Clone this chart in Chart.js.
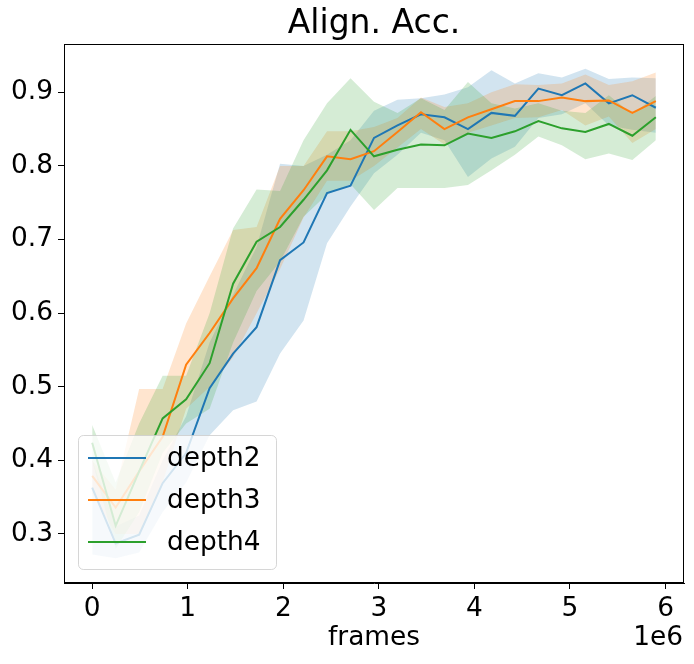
<!DOCTYPE html>
<html>
<head>
<meta charset="utf-8">
<script src="https://cdn.jsdelivr.net/npm/chart.js@4.4.1/dist/chart.umd.min.js"></script>
<style>
    html, body { margin: 0; padding: 0; background: #fff; }
    #wrap { width: 694px; height: 664px; }
</style>
</head>
<body>
<div id="wrap"><canvas id="chart" width="694" height="664"></canvas></div>
<script>
const frames = [0, 245760, 491520, 737280, 983040, 1228800, 1474560, 1720320, 1966080, 2211840,
    2457600, 2703360, 2949120, 3194880, 3440640, 3686400, 3932160, 4177920, 4423680, 4669440,
    4915200, 5160960, 5406720, 5652480, 5898240];

const depth2Mean = [0.363, 0.287, 0.299, 0.369, 0.410, 0.498, 0.545, 0.581, 0.672, 0.696, 0.763, 0.773, 0.838,
    0.855, 0.870, 0.866, 0.850, 0.872, 0.868, 0.905, 0.896, 0.912, 0.885, 0.896, 0.879];
const depth2Upper = [0.400, 0.310, 0.325, 0.400, 0.460, 0.560, 0.625, 0.690, 0.803, 0.800, 0.815, 0.835, 0.875,
    0.890, 0.892, 0.897, 0.907, 0.930, 0.912, 0.926, 0.920, 0.932, 0.918, 0.920, 0.919];
const depth2Lower = [0.272, 0.267, 0.275, 0.330, 0.370, 0.434, 0.468, 0.480, 0.545, 0.590, 0.695, 0.745, 0.790,
    0.815, 0.845, 0.835, 0.785, 0.810, 0.826, 0.865, 0.870, 0.885, 0.855, 0.849, 0.845];

const depth3Mean = [0.379, 0.336, 0.385, 0.432, 0.530, 0.573, 0.620, 0.661, 0.728, 0.767, 0.813, 0.809, 0.820,
    0.846, 0.873, 0.850, 0.866, 0.877, 0.888, 0.888, 0.893, 0.888, 0.889, 0.872, 0.888];
const depth3Upper = [0.400, 0.360, 0.497, 0.497, 0.586, 0.650, 0.713, 0.717, 0.800, 0.800, 0.847, 0.847, 0.853,
    0.865, 0.893, 0.880, 0.885, 0.900, 0.911, 0.910, 0.912, 0.924, 0.910, 0.915, 0.927];
const depth3Lower = [0.355, 0.300, 0.300, 0.370, 0.470, 0.500, 0.540, 0.600, 0.660, 0.730, 0.780, 0.780, 0.800,
    0.825, 0.850, 0.829, 0.845, 0.855, 0.865, 0.866, 0.876, 0.855, 0.867, 0.831, 0.850];

const depth4Mean = [0.424, 0.311, 0.385, 0.457, 0.483, 0.532, 0.640, 0.697, 0.717, 0.754, 0.794, 0.849, 0.813,
    0.822, 0.829, 0.828, 0.844, 0.838, 0.847, 0.861, 0.851, 0.846, 0.857, 0.841, 0.866];
const depth4Upper = [0.448, 0.370, 0.450, 0.515, 0.515, 0.600, 0.715, 0.768, 0.766, 0.835, 0.885, 0.919, 0.887,
    0.872, 0.892, 0.876, 0.914, 0.885, 0.878, 0.885, 0.875, 0.872, 0.896, 0.870, 0.895];
const depth4Lower = [0.400, 0.280, 0.330, 0.410, 0.450, 0.470, 0.560, 0.630, 0.670, 0.731, 0.761, 0.775, 0.740,
    0.770, 0.770, 0.770, 0.774, 0.794, 0.815, 0.840, 0.828, 0.809, 0.817, 0.808, 0.835];

const xTicks = [0, 1e6, 2e6, 3e6, 4e6, 5e6, 6e6];
const yTicks = [0.3, 0.4, 0.5, 0.6, 0.7, 0.8, 0.9];

const fontFamily = '"DejaVu Sans", sans-serif';
const baseSize = 26.4;

const series = [
    {label: 'depth2', color: '#1f77b4', fill: 'rgba(31, 119, 180, 0.2)', mean: depth2Mean, upper: depth2Upper, lower: depth2Lower},
    {label: 'depth3', color: '#ff7f0e', fill: 'rgba(255, 127, 14, 0.2)', mean: depth3Mean, upper: depth3Upper, lower: depth3Lower},
    {label: 'depth4', color: '#2ca02c', fill: 'rgba(44, 160, 44, 0.2)', mean: depth4Mean, upper: depth4Upper, lower: depth4Lower}
];

function toPoints(values) {
    return values.map((v, i) => ({x: frames[i], y: v}));
}

// bands first (drawn under every line, like matplotlib zorder), then the lines
const datasets = [];
series.forEach((s, k) => {
    datasets.push({
        label: s.label + ' upper', data: toPoints(s.upper),
        borderColor: 'transparent', borderWidth: 0, pointRadius: 0, backgroundColor: s.fill,
        fill: {target: datasets.length + 1}, order: 9 - k, tension: 0
    });
    datasets.push({
        label: s.label + ' lower', data: toPoints(s.lower),
        borderColor: 'transparent', borderWidth: 0, pointRadius: 0, fill: false, order: 9 - k, tension: 0
    });
});
series.forEach((s, k) => {
    datasets.push({
        label: s.label, data: toPoints(s.mean),
        borderColor: s.color, borderWidth: 2, pointRadius: 0, fill: false, order: 3 - k, tension: 0
    });
});

const decorPlugin = {
    id: 'decor',
    afterDatasetsDraw(chart) {
        const {ctx, chartArea: a} = chart;
        ctx.save();
        // full frame
        ctx.strokeStyle = '#000';
        ctx.lineWidth = 1;
        ctx.strokeRect(Math.round(a.left) + 0.5, Math.round(a.top) + 0.5,
            Math.round(a.right - a.left) - 1, Math.round(a.bottom - a.top) - 1);

        // legend box, lower left inside the axes
        const boxW = 198, boxH = 134;
        const bx = a.left + 14, by = a.bottom - 14 - boxH;
        ctx.beginPath();
        ctx.roundRect(bx + 0.5, by + 0.5, boxW, boxH, 5);
        ctx.fillStyle = 'rgba(255, 255, 255, 0.8)';
        ctx.fill();
        ctx.strokeStyle = 'rgba(204, 204, 204, 0.8)';
        ctx.stroke();

        ctx.font = `${baseSize}px ${fontFamily}`;
        ctx.textBaseline = 'middle';
        ctx.textAlign = 'left';
        series.forEach((s, i) => {
            const ly = by + 23 + i * 42;
            ctx.beginPath();
            ctx.moveTo(bx + 10, ly);
            ctx.lineTo(bx + 68, ly);
            ctx.strokeStyle = s.color;
            ctx.lineWidth = 2;
            ctx.stroke();
            ctx.fillStyle = '#000';
            ctx.fillText(s.label, bx + 89, ly + 1);
        });
        ctx.restore();
    },
    afterDraw(chart) {
        const {ctx, chartArea: a} = chart;
        ctx.save();
        ctx.fillStyle = '#000';
        ctx.textBaseline = 'middle';
        ctx.textAlign = 'center';
        ctx.font = `33px ${fontFamily}`;
        ctx.fillText('Align. Acc.', (a.left + a.right) / 2, 24);

        ctx.font = `${baseSize}px ${fontFamily}`;
        ctx.fillText('frames', (a.left + a.right) / 2, 638);
        ctx.textAlign = 'right';
        ctx.fillText('1e6', a.right - 1, 638);
        ctx.restore();
    }
};

const ctx = document.getElementById('chart').getContext('2d');
new Chart(ctx, {
    type: 'line',
    data: {datasets: datasets},
    options: {
        responsive: false,
        animation: false,
        devicePixelRatio: 1,
        layout: {padding: {top: 44, right: 10, left: 0, bottom: 0}},
        plugins: {
            legend: {display: false},
            title: {display: false},
            tooltip: {enabled: false}
        },
        scales: {
            x: {
                type: 'linear',
                min: -294912,
                max: 6193152,
                afterBuildTicks: axis => { axis.ticks = xTicks.map(v => ({value: v})); },
                afterFit: axis => { axis.height = 81; },
                ticks: {
                    color: '#000',
                    font: {family: fontFamily, size: baseSize},
                    padding: 4,
                    maxRotation: 0,
                    callback: v => String(v / 1e6)
                },
                grid: {drawOnChartArea: false, tickLength: 6, color: '#000', tickWidth: 1},
                border: {display: true, color: '#000', width: 1}
            },
            y: {
                type: 'linear',
                min: 0.2334,
                max: 0.9656,
                afterBuildTicks: axis => { axis.ticks = yTicks.map(v => ({value: v})); },
                afterFit: axis => { axis.width = 64; },
                ticks: {
                    color: '#000',
                    font: {family: fontFamily, size: baseSize},
                    padding: 5,
                    callback: v => v.toFixed(1)
                },
                grid: {drawOnChartArea: false, tickLength: 6, color: '#000', tickWidth: 1},
                border: {display: true, color: '#000', width: 1}
            }
        }
    },
    plugins: [decorPlugin]
});
</script>
</body>
</html>
